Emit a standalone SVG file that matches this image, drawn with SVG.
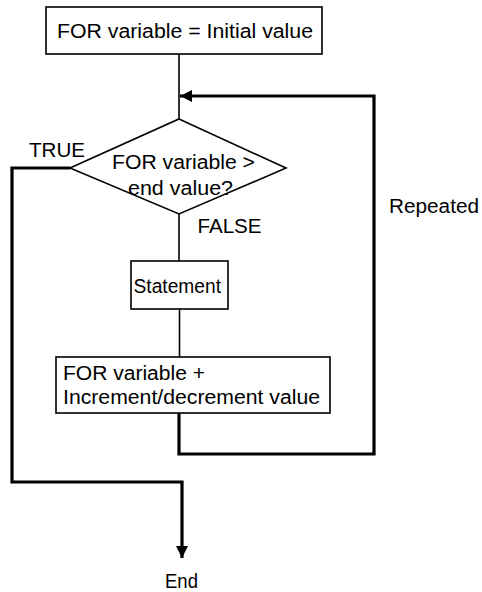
<svg xmlns="http://www.w3.org/2000/svg" width="482" height="592" viewBox="0 0 482 592">
<style>
.box{fill:#fff;stroke:#000;stroke-width:1.6}
.thin{fill:none;stroke:#000;stroke-width:1.6}
.thick{fill:none;stroke:#000;stroke-width:3.2;stroke-linejoin:miter}
text{font-family:"Liberation Sans",Arial,Helvetica,sans-serif;font-size:19.5px;fill:#000}
</style>
<defs>
<marker id="ah" viewBox="0 0 12 12" refX="12" refY="6" markerWidth="12" markerHeight="12" markerUnits="userSpaceOnUse" orient="auto">
<path d="M0,0 L12,6 L0,12 Z" fill="#000"/>
</marker>
</defs>
<rect width="482" height="592" fill="#fff"/>
<g id="connectors">
<path class="thin" d="M179,54 V119"/>
<path class="thin" d="M179,214 V261"/>
<path class="thin" d="M179.5,309 V357"/>
<path class="thick" d="M179,413 V454 H374 V96 H180" marker-end="url(#ah)"/>
<path class="thick" d="M70,168 H12 V482 H182 V558" marker-end="url(#ah)"/>
</g>
<g id="start">
<rect class="box" x="46" y="7" width="276" height="47"/>
<text x="57" y="38" textLength="256" lengthAdjust="spacingAndGlyphs">FOR variable = Initial value</text>
</g>
<g id="condition">
<polygon class="box" points="179,119 286,168 179,214 70,168"/>
<text x="112" y="169" textLength="143" lengthAdjust="spacingAndGlyphs">FOR variable &gt;</text>
<text x="128" y="195" textLength="105" lengthAdjust="spacingAndGlyphs">end value?</text>
</g>
<g id="statement">
<rect class="box" x="131" y="261" width="97" height="48"/>
<text x="133.5" y="293" textLength="87.5" lengthAdjust="spacingAndGlyphs" style="font-size:20.5px">Statement</text>
</g>
<g id="increment">
<rect class="box" x="56" y="357" width="274" height="56"/>
<text x="63" y="380" textLength="142" lengthAdjust="spacingAndGlyphs">FOR variable +</text>
<text x="63" y="404" textLength="257" lengthAdjust="spacingAndGlyphs">Increment/decrement value</text>
</g>
<g id="labels">
<text x="29" y="157" textLength="56" lengthAdjust="spacingAndGlyphs">TRUE</text>
<text x="197.5" y="233" textLength="64" lengthAdjust="spacingAndGlyphs">FALSE</text>
<text x="389" y="212.5" textLength="90" lengthAdjust="spacingAndGlyphs">Repeated</text>
</g>
<g id="end">
<text x="165" y="588" textLength="33" lengthAdjust="spacingAndGlyphs">End</text>
</g>
</svg>
